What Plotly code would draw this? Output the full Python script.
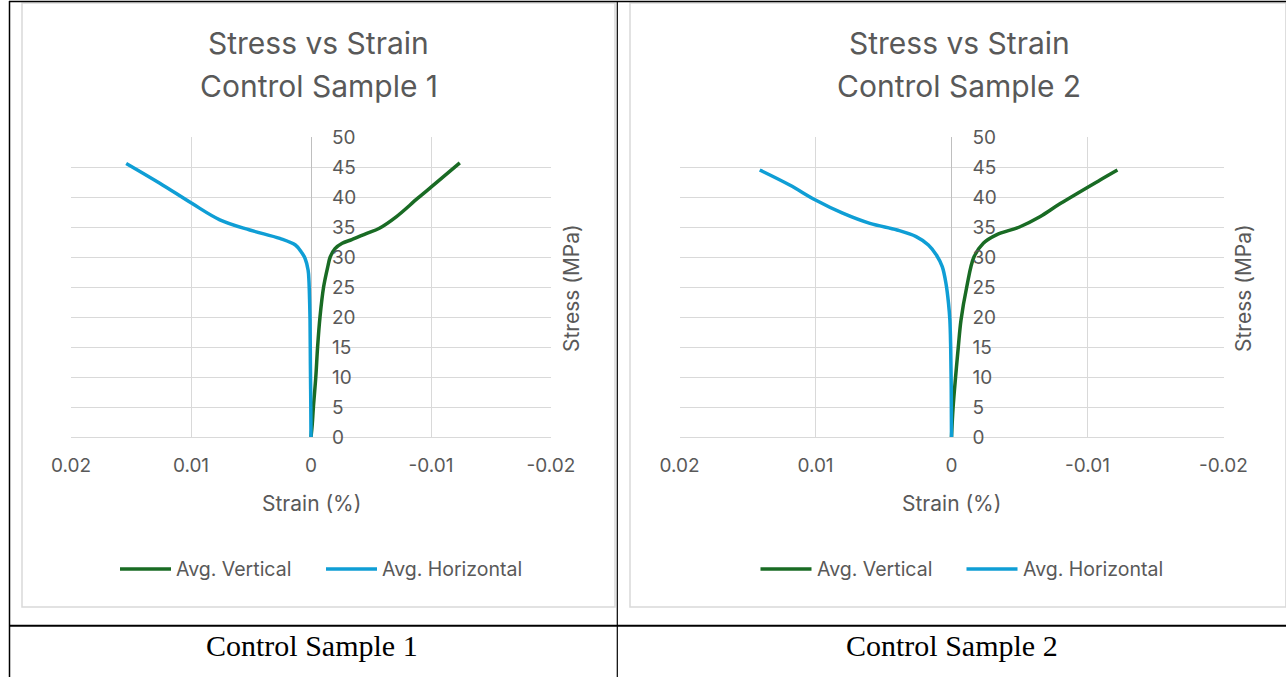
import plotly.graph_objects as go

W, H = 1286, 677

# ---------------- data ----------------
# Control Sample 1
s1_vert_stress = [0, 2, 5, 10, 15, 20, 25, 28.4, 30.0, 31.4, 32.3, 32.9, 33.9, 34.8, 36.7, 39.8, 42.3, 45.7]
s1_vert_strain = [0, -0.0001, -0.0002, -0.0004, -0.00055, -0.00075, -0.00105, -0.0014, -0.0016, -0.0020,
                  -0.0026, -0.0034, -0.0046, -0.0057, -0.0071, -0.0089, -0.0104, -0.0124]
s1_horz_stress = [0, 6, 12, 19.5, 23, 26, 27.8, 29.8, 30.8, 32.0, 33.1, 34.5, 36.2, 38.9, 42.3, 45.6]
s1_horz_strain = [0, 0.00002, 0.00005, 0.00008, 0.00012, 0.00017, 0.00024, 0.0005, 0.0008, 0.0013, 0.0026,
                  0.0051, 0.0076, 0.0099, 0.0126, 0.0154]

# Control Sample 2
s2_vert_stress = [0, 5, 10, 15, 19.5, 25.0, 30.0, 32.3, 33.7, 35.0, 36.7, 38.9, 42.8, 44.5]
s2_vert_strain = [0, -0.00012, -0.0003, -0.0005, -0.0007, -0.00112, -0.00165, -0.00234, -0.0033,
                  -0.0050, -0.0065, -0.0080, -0.0109, -0.0122]
s2_horz_stress = [0, 8, 15, 19.5, 22.3, 25.5, 28.4, 30.3, 32.0, 33.4, 34.5, 35.6, 37.3, 39.5, 42.0, 44.5]
s2_horz_strain = [0, 0.00002, 0.00006, 0.00012, 0.00022, 0.0004, 0.00068, 0.0011, 0.0017, 0.0026, 0.0040,
                  0.0060, 0.0080, 0.0100, 0.0119, 0.0141]

x_tickvals = [0.02, 0.01, 0, -0.01, -0.02]
x_ticktext = ["0.02", "0.01", "0", "-0.01", "-0.02"]
y_tickvals = [0, 5, 10, 15, 20, 25, 30, 35, 40, 45, 50]

chart_titles = ["Control Sample 1", "Control Sample 2"]
series_names = ["Avg. Vertical", "Avg. Horizontal"]
captions = ["Control Sample 1", "Control Sample 2"]

GREEN = "#196B24"
BLUE = "#0F9ED5"
TXT = "#595959"
GRID = "#D9D9D9"
FONT = "Inter"


def px(x):
    return x / W


def py(y):
    return 1 - y / H


fig = go.Figure()

panels = [
    dict(xa="x", ya="y", vs=s1_vert_stress, ve=s1_vert_strain, hs=s1_horz_stress, he=s1_horz_strain),
    dict(xa="x2", ya="y2", vs=s2_vert_stress, ve=s2_vert_strain, hs=s2_horz_stress, he=s2_horz_strain),
]
for p in panels:
    fig.add_trace(go.Scatter(x=p["ve"], y=p["vs"], mode="lines", name=series_names[0],
                             line=dict(color=GREEN, width=3.5, shape="spline", smoothing=1.0),
                             xaxis=p["xa"], yaxis=p["ya"], showlegend=False))
    fig.add_trace(go.Scatter(x=p["he"], y=p["hs"], mode="lines", name=series_names[1],
                             line=dict(color=BLUE, width=3.5, shape="spline", smoothing=1.0),
                             xaxis=p["xa"], yaxis=p["ya"], showlegend=False))

# plot areas in pixels
plots = [
    dict(left=71.0, right=551.0, zero=311.0),
    dict(left=679.5, right=1223.5, zero=951.5),
]
top, bottom = 137.0, 437.0

common_x = dict(range=[0.02, -0.02], tickvals=x_tickvals, ticktext=x_ticktext, automargin=False,
                showgrid=True, gridcolor=GRID, gridwidth=1, zeroline=True, zerolinecolor="#BFBFBF",
                zerolinewidth=1, showline=False, ticks="", tickfont=dict(family=FONT, size=19, color=TXT),
                ticklabelstandoff=15, fixedrange=True)
common_y = dict(range=[0, 50], tickvals=y_tickvals, showgrid=True, gridcolor=GRID, gridwidth=1, automargin=False,
                zeroline=True, zerolinecolor="#D9D9D9", zerolinewidth=1, showline=False, ticks="",
                tickfont=dict(family=FONT, size=19, color=TXT), side="right", anchor="free",
                ticklabelstandoff=20, fixedrange=True)

fig.update_layout(
    xaxis=dict(domain=[px(plots[0]["left"]), px(plots[0]["right"])], anchor="y", **common_x),
    xaxis2=dict(domain=[px(plots[1]["left"]), px(plots[1]["right"])], anchor="y2", **common_x),
    yaxis=dict(domain=[py(bottom), py(top)], position=px(plots[0]["zero"]), **common_y),
    yaxis2=dict(domain=[py(bottom), py(top)], position=px(plots[1]["zero"]), **common_y),
)

shapes = []
annotations = []

# chart frames
shapes.append(dict(type="rect", xref="paper", yref="paper", x0=px(22), x1=px(615), y0=py(607), y1=py(3),
                   line=dict(color=GRID, width=1.5), layer="below"))
shapes.append(dict(type="rect", xref="paper", yref="paper", x0=px(630), x1=px(1285.9), y0=py(607), y1=py(3),
                   line=dict(color=GRID, width=1.5), layer="below"))

for i, off in enumerate([0.0, 640.5]):
    cx = 318.5 + off
    zero = plots[i]["zero"]
    annotations.append(dict(text="Stress vs Strain", x=px(cx), y=py(43), xref="paper", yref="paper",
                            showarrow=False, xanchor="center", yanchor="middle",
                            font=dict(family=FONT, size=30, color=TXT)))
    annotations.append(dict(text=chart_titles[i], x=px(cx), y=py(86), xref="paper", yref="paper",
                            showarrow=False, xanchor="center", yanchor="middle",
                            font=dict(family=FONT, size=30, color=TXT)))
    annotations.append(dict(text="Strain (%)", x=px(zero), y=py(503), xref="paper", yref="paper",
                            showarrow=False, xanchor="center", yanchor="middle",
                            font=dict(family=FONT, size=21, color=TXT)))
    annotations.append(dict(text="Stress (MPa)", x=px(571 + (off if i == 0 else 672)), y=py(288),
                            xref="paper", yref="paper", textangle=-90,
                            showarrow=False, xanchor="center", yanchor="middle",
                            font=dict(family=FONT, size=21, color=TXT)))
    # legend
    for j, (col, lx0, tx) in enumerate([(GREEN, 120, 174), (BLUE, 326, 380)]):
        shapes.append(dict(type="line", xref="paper", yref="paper", x0=px(lx0 + off), x1=px(lx0 + 51 + off),
                           y0=py(569), y1=py(569), line=dict(color=col, width=3.5)))
        annotations.append(dict(text=series_names[j], x=px(tx + off), y=py(569), xref="paper", yref="paper",
                                showarrow=False, xanchor="left", yanchor="middle",
                                font=dict(family=FONT, size=19.5, color=TXT)))
    # caption
    annotations.append(dict(text=captions[i], x=px(311.5 + off), y=py(645), xref="paper", yref="paper",
                            showarrow=False, xanchor="center", yanchor="middle",
                            font=dict(family="Liberation Serif", size=30, color="#000000")))

# table borders (kept inside the figure)
black = dict(color="#000000", width=1.5)
shapes.append(dict(type="line", xref="paper", yref="paper", x0=px(9), x1=px(1286), y0=py(1.5), y1=py(1.5), line=black))
shapes.append(dict(type="line", xref="paper", yref="paper", x0=px(9.5), x1=px(9.5), y0=py(1), y1=py(677), line=black))
shapes.append(dict(type="line", xref="paper", yref="paper", x0=px(617.3), x1=px(617.3), y0=py(1), y1=py(677),
                   line=dict(color="#000000", width=1.2)))
shapes.append(dict(type="line", xref="paper", yref="paper", x0=px(9), x1=px(1286), y0=py(625.7), y1=py(625.7),
                   line=dict(color="#000000", width=2)))

fig.update_layout(
    width=W, height=H, autosize=False,
    margin=dict(l=0, r=0, t=0, b=0, pad=0, autoexpand=False),
    paper_bgcolor="white", plot_bgcolor="white",
    showlegend=False, shapes=shapes, annotations=annotations,
    font=dict(family=FONT, color=TXT),
)

fig.write_html("out.html",
               post_script="document.documentElement.style.margin='0';document.body.style.margin='0';"
                           "document.documentElement.style.overflow='hidden';",
               config={"displayModeBar": False})
